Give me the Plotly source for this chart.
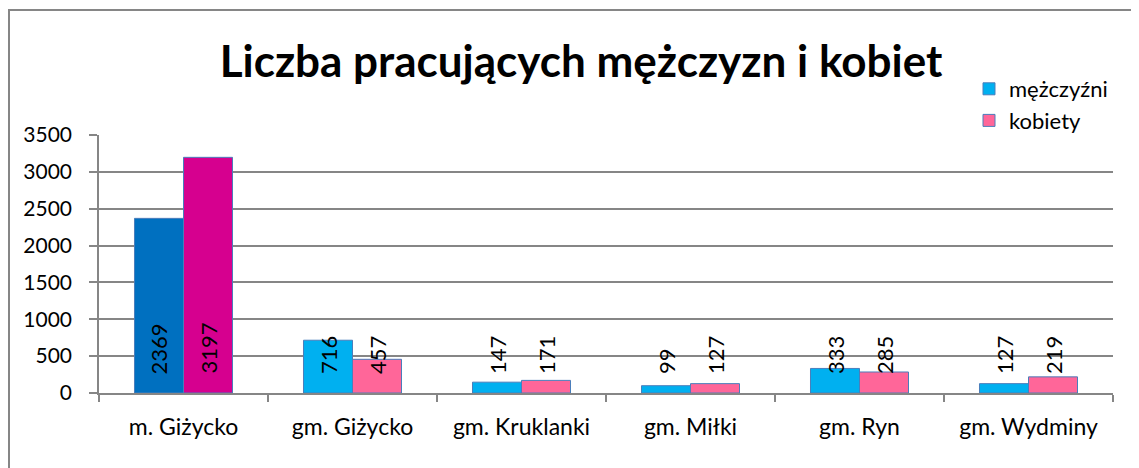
import plotly.graph_objects as go

categories = ["m. Giżycko", "gm. Giżycko", "gm. Kruklanki", "gm. Miłki", "gm. Ryn", "gm. Wydminy"]
men = [2369, 716, 147, 99, 333, 127]
women = [3197, 457, 171, 127, 285, 219]
men_colors = ["#0070C0", "#00B0F0", "#00B0F0", "#00B0F0", "#00B0F0", "#00B0F0"]
women_colors = ["#D6008F", "#FF6699", "#FF6699", "#FF6699", "#FF6699", "#FF6699"]
y_ticks = [0, 500, 1000, 1500, 2000, 2500, 3000, 3500]

FONT = "Lato"
OFF = 8  # page offset of the figure (body margin)
W, H = 1139, 468
L = 99 - OFF
T = 135 - OFF
pw, ph = 1014, 258
R = W - L - pw
B = H - T - ph

# data order rotated so the legend swatch takes the regular colour
order = list(range(1, len(categories))) + [0]
pick = lambda arr: [arr[i] for i in order]

fig = go.Figure()
fig.add_trace(go.Bar(
    name="mężczyźni", x=pick(categories), y=pick(men),
    marker=dict(color=pick(men_colors), line=dict(color="#4A7EBB", width=1)),
))
fig.add_trace(go.Bar(
    name="kobiety", x=pick(categories), y=pick(women),
    marker=dict(color=pick(women_colors), line=dict(color="#4A7EBB", width=1)),
))

bar_px = pw / len(categories) * 0.58 / 2
for i, c in enumerate(categories):
    for v, sh in ((men[i], -bar_px / 2), (women[i], bar_px / 2)):
        fig.add_annotation(x=c, y=0, xref="x", yref="y", text=str(v), textangle=-90,
                           showarrow=False, xshift=sh, yshift=17, yanchor="bottom",
                           xanchor="center", font=dict(family=FONT, size=22, color="#000000"))

fig.add_shape(type="rect", xref="paper", yref="paper",
              x0=(1 - L) / pw, x1=(W + 20 - L) / pw,
              y0=-(H + 20 - T - ph) / ph, y1=(T - 2) / ph + 1,
              line=dict(color="#868686", width=2), fillcolor="rgba(0,0,0,0)", layer="below")

fig.update_layout(
    width=W, height=H,
    margin=dict(l=L, r=R, t=T, b=B),
    paper_bgcolor="white", plot_bgcolor="white",
    barmode="group", bargap=0.42, bargroupgap=0,
    title=dict(text="<b>Liczba pracujących mężczyzn i kobiet</b>", x=(581 - OFF) / W, xanchor="center",
               y=1 - (62 - OFF) / H, yanchor="middle", font=dict(family=FONT, size=44, color="#000000")),
    legend=dict(x=(969 - OFF - L) / pw, y=(T - 60) / ph + 1, xanchor="left", yanchor="top",
                font=dict(family=FONT, size=22, color="#000000"), bgcolor="rgba(0,0,0,0)",
                tracegroupgap=0, itemwidth=30),
    showlegend=True,
    font=dict(family=FONT, size=22, color="#000000"),
)
fig.update_xaxes(categoryorder="array", categoryarray=categories, showline=True,
                 linecolor="#868686", linewidth=1.5, ticks="outside", tickson="boundaries",
                 ticklen=7, tickcolor="#868686", tickwidth=1.5, showgrid=False,
                 ticklabelstandoff=13,
                 tickfont=dict(family=FONT, size=23, color="#000000"))
fig.update_yaxes(range=[0, 3500], tickvals=y_ticks, showline=True, linecolor="#868686",
                 linewidth=1.5, ticks="outside", ticklen=8, tickcolor="#868686", tickwidth=1.5,
                 showgrid=True, gridcolor="#868686", gridwidth=1.5, zeroline=False,
                 ticklabelstandoff=13,
                 tickfont=dict(family=FONT, size=21, color="#000000"))

fig.write_html("out.html")
